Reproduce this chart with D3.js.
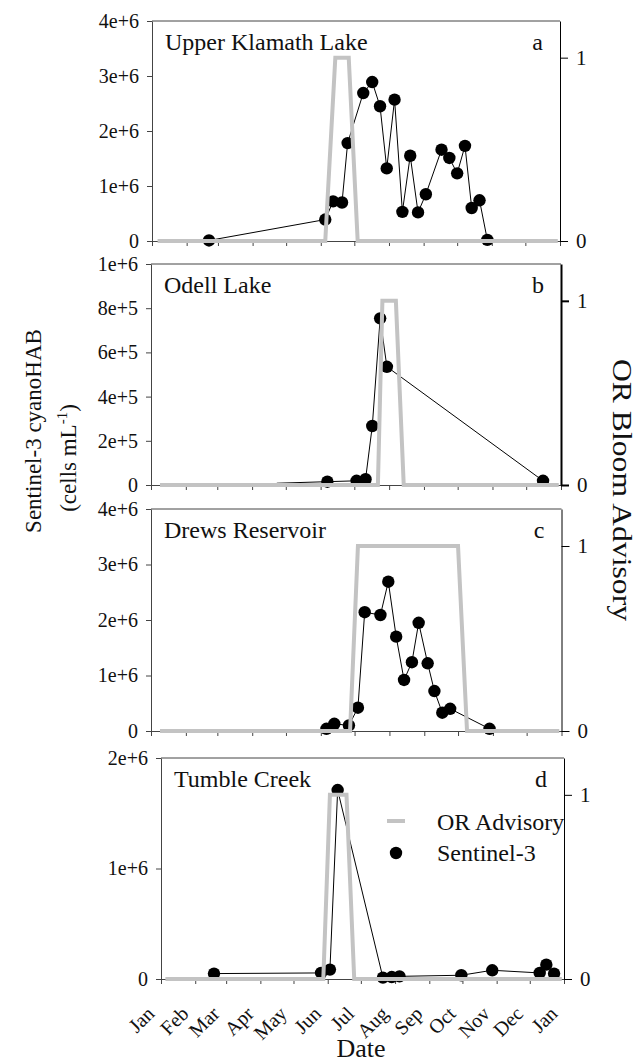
<!DOCTYPE html>
<html><head><meta charset="utf-8">
<script src="https://cdn.jsdelivr.net/npm/d3@7"></script>
<style>
body{margin:0;background:#fff}
text{font-family:"Liberation Serif","Times New Roman",serif;fill:#111}
</style>
</head><body>
<svg id="c" width="640" height="1064"></svg>
<script>
// ---------- data ----------
const monthLabels = ["Jan","Feb","Mar","Apr","May","Jun","Jul","Aug","Sep","Oct","Nov","Dec","Jan"];
const monthStartDays = [0,31,59,90,120,151,181,212,243,273,304,334,365];

// Upper Klamath Lake (day of year, cells/mL)
const klamathDays  = [51,155,162,170,175,189,197,204,210,217,224,231,238,245,259,266,273,280,286,293,300];
const klamathCells = [10000,390000,720000,700000,1780000,2690000,2890000,2450000,1320000,2570000,530000,1550000,520000,850000,1660000,1510000,1230000,1730000,600000,740000,20000];
const klamathAdvDays = [5,155,164,176,184,363];
const klamathAdv     = [0,0,1,1,0,0];

// Odell Lake
const odellDays  = [112,157,183,191,197,204,210,349];
const odellCells = [8000,15000,19000,26000,267000,754000,535000,19000];
const odellMarked = [false,true,true,true,true,true,true,true];
const odellAdvDays = [8,202,206,218,225,363];
const odellAdv     = [0,0,1,1,0,0];

// Drews Reservoir
const drewsDays  = [156,163,176,184,190,204,211,218,225,232,238,246,252,259,266,301];
const drewsCells = [40000,130000,100000,420000,2140000,2090000,2690000,1700000,920000,1240000,1950000,1220000,720000,330000,400000,40000];
const drewsAdvDays = [8,177,184,273,281,363];
const drewsAdv     = [0,0,1,1,0,0];

// Tumble Creek
const tumbleDays  = [48,145,153,160,201,209,216,272,300,343,349,356];
const tumbleCells = [49000,55000,85000,1710000,12000,18000,24000,34000,79000,55000,130000,49000];
const tumbleAdvDays = [4,147,153,168,175,363];
const tumbleAdv     = [0,0,1,1,0,0];

const panelTitles  = ["Upper Klamath Lake","Odell Lake","Drews Reservoir","Tumble Creek"];
const panelLetters = ["a","b","c","d"];
const yMaxes = [4e6,1e6,4e6,2e6];
const yTickValues = [[0,1e6,2e6,3e6,4e6],[0,2e5,4e5,6e5,8e5,1e6],[0,1e6,2e6,3e6,4e6],[0,1e6,2e6]];
const yTickLabels = [["0","1e+6","2e+6","3e+6","4e+6"],["0","2e+5","4e+5","6e+5","8e+5","1e+6"],["0","1e+6","2e+6","3e+6","4e+6"],["0","1e+6","2e+6"]];
const advTickValues = [0,1];
const advTickLabels = ["0","1"];
const legendLabels = ["OR Advisory","Sentinel-3"];

// ---------- layout ----------
const boxes = [
  {l:152,r:560,t:21,b:241},
  {l:151,r:561,t:264,b:485},
  {l:151,r:561.5,t:509,b:731},
  {l:161,r:564,t:758,b:979}
];
const series = [
  {days:klamathDays,cells:klamathCells,marked:null,advDays:klamathAdvDays,adv:klamathAdv},
  {days:odellDays,cells:odellCells,marked:odellMarked,advDays:odellAdvDays,adv:odellAdv},
  {days:drewsDays,cells:drewsCells,marked:null,advDays:drewsAdvDays,adv:drewsAdv},
  {days:tumbleDays,cells:tumbleCells,marked:null,advDays:tumbleAdvDays,adv:tumbleAdv}
];

const svg = d3.select("#c");
const GRAY = "#c3c3c3";
const FRAME = "#444";
const FONT = '"Liberation Serif","Times New Roman",serif';

series.forEach((s,i)=>{
  const b = boxes[i];
  const x = d3.scaleLinear().domain([0,365]).range([b.l,b.r]);
  const y = d3.scaleLinear().domain([0,yMaxes[i]]).range([b.b,b.t]);
  const y2 = d3.scaleLinear().domain([0,1.2]).range([b.b,b.t]);
  const g = svg.append("g");

  // top border
  g.append("line").attr("x1",b.l).attr("x2",b.r).attr("y1",b.t).attr("y2",b.t)
    .attr("stroke",FRAME).attr("stroke-width",1);

  // bottom axis (month ticks)
  const ax = d3.axisBottom(x).tickValues(monthStartDays).tickSize(5).tickSizeOuter(0)
    .tickFormat((d,k)=> "");
  const gx = g.append("g").attr("transform",`translate(0,${b.b})`).call(ax);
  gx.selectAll("path,line").attr("stroke",FRAME);

  // left axis
  const ay = d3.axisLeft(y).tickValues(yTickValues[i]).tickSize(5).tickSizeOuter(0).tickPadding(8)
    .tickFormat((d,k)=>yTickLabels[i][k]);
  const gy = g.append("g").attr("transform",`translate(${b.l},0)`).call(ay);
  gy.selectAll("path,line").attr("stroke",FRAME);
  gy.selectAll("text").attr("font-size",20).attr("font-family",FONT).attr("fill","#111");

  // right axis
  const ar = d3.axisRight(y2).tickValues(advTickValues).tickSize(8).tickSizeOuter(0).tickPadding(8)
    .tickFormat((d,k)=>advTickLabels[k]);
  const gr = g.append("g").attr("transform",`translate(${b.r},0)`).call(ar);
  gr.selectAll("path,line").attr("stroke","#000").attr("stroke-width", i===1?2:1);
  gr.selectAll("text").attr("font-size",21).attr("font-family",FONT).attr("fill","#111");

  // data line
  const pts = s.days.map((d,k)=>({d:d,v:s.cells[k],m: s.marked? s.marked[k] : true}));
  const line = d3.line().x(p=>x(p.d)).y(p=>y(p.v));
  g.append("path").datum(pts).attr("d",line).attr("fill","none")
    .attr("stroke","#000").attr("stroke-width",1);
  g.selectAll("circle.pt").data(pts.filter(p=>p.m)).enter().append("circle")
    .attr("class","pt").attr("cx",p=>x(p.d)).attr("cy",p=>y(p.v)).attr("r",6.2).attr("fill","#000");

  // advisory line (drawn on top)
  const adv = s.advDays.map((d,k)=>({d:d,v:s.adv[k]}));
  const aline = d3.line().x(p=>x(p.d)).y(p=>y2(p.v));
  g.append("path").datum(adv).attr("d",aline).attr("fill","none")
    .attr("stroke",GRAY).attr("stroke-width",4).attr("stroke-linejoin","miter");

  // titles
  g.append("text").attr("x",b.l+13).attr("y",b.t+29).attr("font-size",24).text(panelTitles[i]);
  g.append("text").attr("x",b.r-17).attr("y",b.t+29).attr("font-size",24)
    .attr("text-anchor","end").text(panelLetters[i]);

  // month labels on last panel
  if(i===3){
    gx.selectAll(".tick").each(function(d,k){
      d3.select(this).append("text")
        .attr("transform",`translate(-6,36) rotate(-45)`)
        .attr("text-anchor","end").attr("font-size",20).attr("font-family",FONT)
        .attr("fill","#111").text(monthLabels[k]);
    });
    // legend
    const lg = g.append("g");
    lg.append("line").attr("x1",387).attr("x2",405).attr("y1",821).attr("y2",821)
      .attr("stroke",GRAY).attr("stroke-width",4);
    lg.append("text").attr("x",437).attr("y",830).attr("font-size",24).text(legendLabels[0]);
    lg.append("circle").attr("cx",396).attr("cy",853).attr("r",6.2).attr("fill","#000");
    lg.append("text").attr("x",437).attr("y",861).attr("font-size",24).text(legendLabels[1]);
  }
});

// axis titles
svg.append("text").attr("transform","translate(41,431) rotate(-90)")
  .attr("text-anchor","middle").attr("font-size",23).text("Sentinel-3 cyanoHAB");
const t2 = svg.append("text").attr("transform","translate(76,458) rotate(-90)")
  .attr("text-anchor","middle").attr("font-size",23);
t2.append("tspan").text("(cells mL");
t2.append("tspan").attr("font-size",15).attr("dy",-9).text("-1");
t2.append("tspan").attr("dy",9).text(")");
svg.append("text").attr("transform","translate(613,490) rotate(90)")
  .attr("text-anchor","middle").attr("font-size",28)
  .attr("textLength",262).attr("lengthAdjust","spacingAndGlyphs").text("OR Bloom Advisory");
svg.append("text").attr("x",361).attr("y",1057).attr("text-anchor","middle")
  .attr("font-size",26).text("Date");
</script>
</body></html>
